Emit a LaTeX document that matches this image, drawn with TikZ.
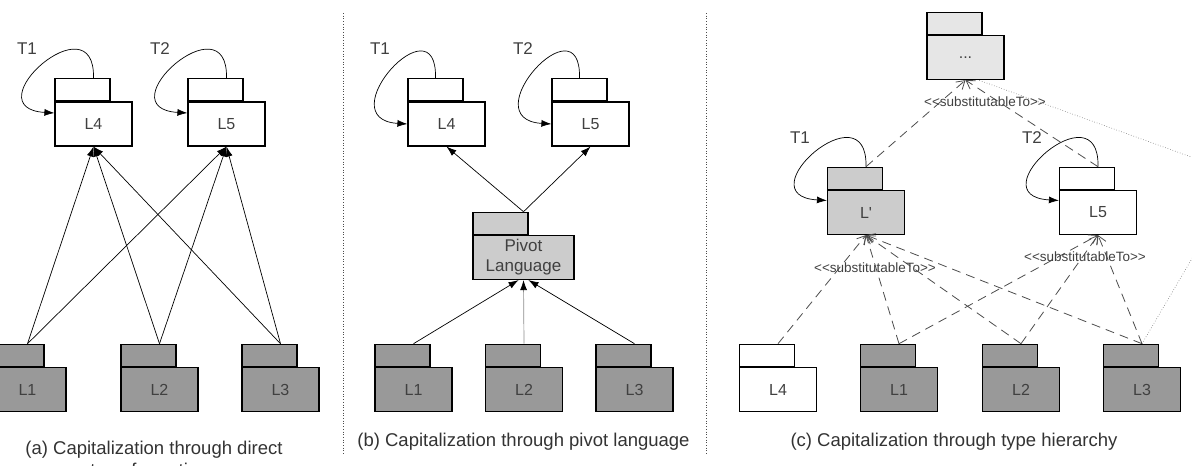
\documentclass[tikz,border=0pt]{standalone}
\usepackage{fontspec}
\setmainfont{Liberation Sans}
\newfontfamily\pkgfont{Liberation Sans}
\usetikzlibrary{arrows.meta, positioning, calc}
\definecolor{txtgray}{HTML}{404040}
\definecolor{capgray}{HTML}{333333}
\definecolor{pkgdark}{HTML}{999999}
\definecolor{pkgmid}{HTML}{CCCCCC}
\definecolor{pkglight}{HTML}{E6E6E6}
\tikzset{
    pkg/.style={
        draw,
        line width=1.2pt,
        minimum width=77pt,
        minimum height=44pt,
        inner sep=0pt,
        align=center,
        text=txtgray,
        font=\pkgfont\fontsize{16}{20}\selectfont
    },
    pkgtab/.style={
        draw,
        line width=1.2pt,
        minimum width=55pt,
        minimum height=22pt,
        inner sep=0pt,
        anchor=south west
    },
    line/.style={-{Latex[length=10pt, width=7pt]}, line width=0.7pt},
    loopline/.style={-{Latex[length=10pt, width=7pt]}, line width=0.7pt},
    subline/.style={-{Straight Barb[length=8pt, width=10pt]}, line width=0.8pt, dash pattern=on 9pt off 6pt, draw=black!70},
    dotline/.style={line width=0.6pt, dotted, draw=black!55},
    sepline/.style={line width=0.7pt, dotted, draw=black!70},
    tlabel/.style={text=txtgray, font=\fontsize{17}{20}\selectfont},
    stereo/.style={text=txtgray, inner sep=1pt, font=\fontsize{13.5}{16}\selectfont},
    caption/.style={text=capgray, align=center, font=\fontsize{18.5}{22}\selectfont}
}

\begin{document}
\begin{tikzpicture}[x=1pt, y=-1pt]
\useasboundingbox (0,0) rectangle (1192,466);

% (a) direct transformations
\node[pkg] (aL4) at (93.5,124) {L4};
\node[pkgtab] (aL4-tab) at (aL4.north west) {};
\node[pkg] (aL5) at (226.5,124) {L5};
\node[pkgtab] (aL5-tab) at (aL5.north west) {};
\node[pkg, fill=pkgdark] (aL1) at (27.5,389.5) {L1};
\node[pkgtab, fill=pkgdark] (aL1-tab) at (aL1.north west) {};
\node[pkg, fill=pkgdark] (aL2) at (159.5,389.5) {L2};
\node[pkgtab, fill=pkgdark] (aL2-tab) at (aL2.north west) {};
\node[pkg, fill=pkgdark] (aL3) at (280.5,389.5) {L3};
\node[pkgtab, fill=pkgdark] (aL3-tab) at (aL3.north west) {};

\node[tlabel] (aT1) at (27,49) {T1};
\node[tlabel] (aT2) at (160,49) {T2};
\draw[loopline] (aL4.center |- aL4-tab.north) .. controls +(2,-80) and +(-83,-5) .. ([yshift=11pt]aL4.west);
\draw[loopline] (aL5.center |- aL5-tab.north) .. controls +(2,-80) and +(-83,-5) .. ([yshift=11pt]aL5.west);

\foreach \s in {aL1,aL2,aL3}
    \foreach \t in {aL4,aL5}
        \draw[line] (\s.center |- \s-tab.north) -- (\t.south);

\node[caption] (capA) at (154,459) {(a) Capitalization through direct\\transformations};

\draw[sepline] (343,13) -- (343,455);

% (b) pivot language
\node[pkg] (bL4) at (446.5,124) {L4};
\node[pkgtab] (bL4-tab) at (bL4.north west) {};
\node[pkg] (bL5) at (590.5,124) {L5};
\node[pkgtab] (bL5-tab) at (bL5.north west) {};
\node[pkg, fill=pkgmid, minimum width=101pt, font=\pkgfont\fontsize{17}{20}\selectfont] (bPv) at (523.5,257.5) {Pivot\\Language};
\node[pkgtab, fill=pkgmid] (bPv-tab) at (bPv.north west) {};
\node[pkg, fill=pkgdark] (bL1) at (413.5,389.5) {L1};
\node[pkgtab, fill=pkgdark] (bL1-tab) at (bL1.north west) {};
\node[pkg, fill=pkgdark] (bL2) at (524,389.5) {L2};
\node[pkgtab, fill=pkgdark] (bL2-tab) at (bL2.north west) {};
\node[pkg, fill=pkgdark] (bL3) at (634.5,389.5) {L3};
\node[pkgtab, fill=pkgdark] (bL3-tab) at (bL3.north west) {};

\node[tlabel] (bT1) at (380,49) {T1};
\node[tlabel] (bT2) at (523,49) {T2};
\draw[loopline] (bL4-tab.north) .. controls +(2,-80) and +(-80,-5) .. (bL4.west);
\draw[loopline] (bL5-tab.north) .. controls +(2,-80) and +(-80,-5) .. (bL5.west);

\draw[line] (bPv.center |- bPv-tab.north) -- (bL4.south);
\draw[line] (bPv.center |- bPv-tab.north) -- (bL5.south);
\draw[line] (bL1.center |- bL1-tab.north) -- ([xshift=-5pt]bPv.south);
\draw[-{Latex[length=10pt, width=7pt, black]}, line width=0.7pt, draw=black!45] (bL2.center |- bL2-tab.north) -- (bPv.south);
\draw[line] (bL3.center |- bL3-tab.north) -- ([xshift=5pt]bPv.south);

\node[caption] (capB) at (523.5,442) {(b) Capitalization through pivot language};

\draw[sepline] (706,13) -- (706,455);

% (c) type hierarchy
\node[pkg, fill=pkglight] (cDots) at (965.5,57.5) {...};
\node[pkgtab, fill=pkglight] (cDots-tab) at (cDots.north west) {};
\node[pkg, fill=pkgmid] (cLp) at (866,212.5) {L'};
\node[pkgtab, fill=pkgmid] (cLp-tab) at (cLp.north west) {};
\node[pkg] (cL5) at (1098,212.5) {L5};
\node[pkgtab] (cL5-tab) at (cL5.north west) {};
\node[pkg] (cL4) at (778,389.5) {L4};
\node[pkgtab] (cL4-tab) at (cL4.north west) {};
\node[pkg, fill=pkgdark] (cL1) at (899,389.5) {L1};
\node[pkgtab, fill=pkgdark] (cL1-tab) at (cL1.north west) {};
\node[pkg, fill=pkgdark] (cL2) at (1021,389.5) {L2};
\node[pkgtab, fill=pkgdark] (cL2-tab) at (cL2.north west) {};
\node[pkg, fill=pkgdark] (cL3) at (1142,389.5) {L3};
\node[pkgtab, fill=pkgdark] (cL3-tab) at (cL3.north west) {};

\node[tlabel] (cT1) at (800,138) {T1};
\node[tlabel] (cT2) at (1032,138) {T2};
\draw[loopline] (cLp.center |- cLp-tab.north) .. controls +(2,-80) and +(-83,-5) .. ([yshift=12pt]cLp.west);
\draw[loopline] (cL5.center |- cL5-tab.north) .. controls +(2,-80) and +(-83,-5) .. ([yshift=12pt]cL5.west);

\draw[subline] (cLp.center |- cLp-tab.north) -- (cDots.south);
\draw[subline] (cL5.center |- cL5-tab.north) -- (cDots.south);
\coordinate (cBend) at (1241,175);
\draw[dotline] (cL3.center |- cL3-tab.north) -- (cBend) -- (cDots.-60);

\foreach \s in {cL4,cL1,cL2,cL3}
    \draw[subline] (\s.center |- \s-tab.north) -- (cLp.south);
\foreach \s in {cL1,cL2,cL3}
    \draw[subline] (\s.center |- \s-tab.north) -- (cL5.south);

\node[stereo] (stTop) at (985,102) {{<}{<}substitutableTo{>}{>}};
\node[stereo] (stLp) at (875,268) {{<}{<}substitutableTo{>}{>}};
\node[stereo] (stL5) at (1085,257) {{<}{<}substitutableTo{>}{>}};

\node[caption] (capC) at (954,442) {(c) Capitalization through type hierarchy};
\end{tikzpicture}
\end{document}
